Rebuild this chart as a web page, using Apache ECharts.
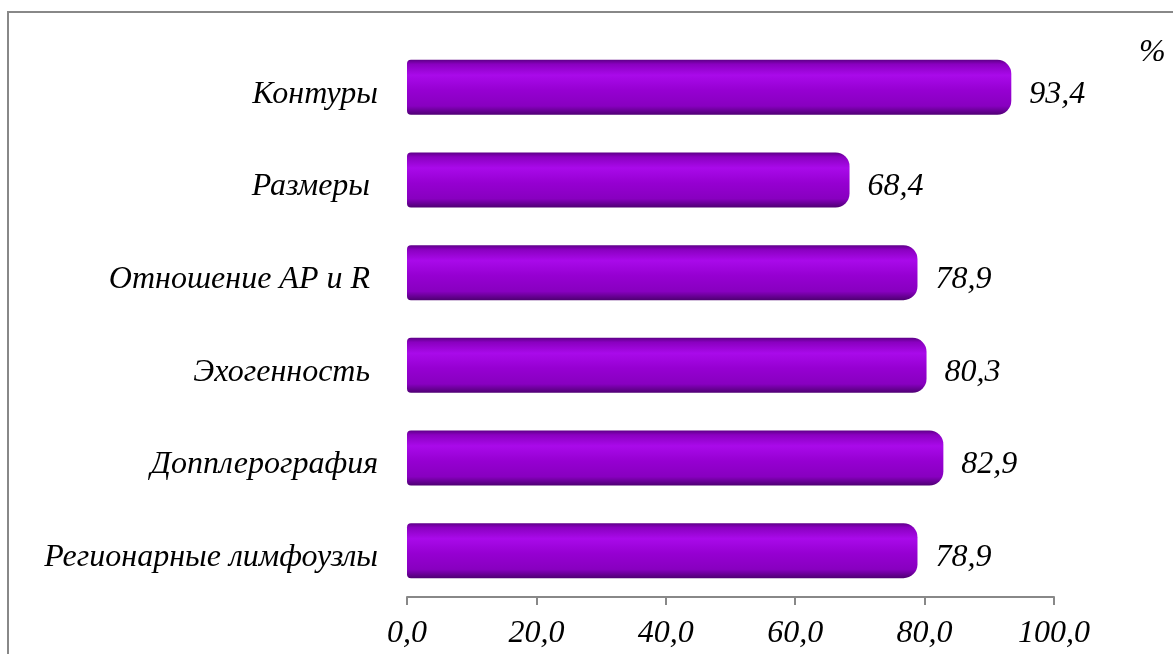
<!DOCTYPE html>
<html>
<head>
<meta charset="utf-8">
<script src="https://cdn.jsdelivr.net/npm/echarts@6/dist/echarts.min.js"></script>
<style>
  html, body { margin: 0; padding: 0; background: #fff; }
  #chart { width: 1173px; height: 654px; }
</style>
</head>
<body>
<div id="chart"></div>
<script>
// Ultrasound criteria and their share, %
const categories = ['Контуры', 'Размеры ', 'Отношение AP и R ', 'Эхогенность ', 'Допплерография', 'Регионарные лимфоузлы'];
const values = [93.4, 68.4, 78.9, 80.3, 82.9, 78.9];
const tickLabels = ['0,0', '20,0', '40,0', '60,0', '80,0', '100,0'];

const serif = '"Liberation Serif", "Times New Roman", serif';
const fontSize = 32;

const barFill = new echarts.graphic.LinearGradient(0, 0, 0, 1, [
  { offset: 0.00, color: '#5e0088' },
  { offset: 0.08, color: '#8a00c0' },
  { offset: 0.28, color: '#a90aea' },
  { offset: 0.55, color: '#9600d2' },
  { offset: 0.84, color: '#8800c0' },
  { offset: 1.00, color: '#4e0072' }
]);

const chart = echarts.init(document.getElementById('chart'), null, { renderer: 'canvas' });
chart.setOption({
  animation: false,
  backgroundColor: '#ffffff',
  graphic: [
    {
      type: 'rect',
      shape: { x: 8, y: 12, width: 1200, height: 700 },
      style: { fill: 'none', stroke: '#888888', lineWidth: 2 },
      silent: true
    },
    {
      type: 'text',
      left: 1139, top: 37,
      style: { text: '%', font: 'italic ' + fontSize + 'px ' + serif, fill: '#000' }
    }
  ],
  grid: { left: 407, right: 119, top: 41, bottom: 57 },
  xAxis: {
    type: 'value',
    min: 0, max: 100, interval: 20,
    axisLine: { show: true, lineStyle: { color: '#888888', width: 2 } },
    axisTick: { show: true, length: 8, lineStyle: { color: '#888888', width: 2 } },
    splitLine: { show: false },
    axisLabel: {
      margin: 21,
      fontFamily: serif, fontStyle: 'italic', fontSize: fontSize, color: '#000',
      formatter: (v) => tickLabels[Math.round(v / 20)]
    }
  },
  yAxis: {
    type: 'category',
    data: categories,
    inverse: true,
    axisLine: { show: false },
    axisTick: { show: false },
    axisLabel: {
      margin: 29,
      formatter: (v) => '{c|' + v + '}',
      rich: {
        c: {
          padding: [14, 0, 0, 0],
          fontFamily: serif, fontStyle: 'italic', fontSize: fontSize, color: '#000'
        }
      }
    }
  },
  series: [{
    type: 'bar',
    data: values,
    barWidth: 55,
    itemStyle: { color: barFill, borderRadius: [4, 14, 14, 4] },
    label: {
      show: true, position: 'right', distance: 18, offset: [0, 7],
      fontFamily: serif, fontStyle: 'italic', fontSize: fontSize, color: '#000',
      formatter: (p) => p.value.toFixed(1).replace('.', ',')
    }
  }]
});
</script>
</body>
</html>
